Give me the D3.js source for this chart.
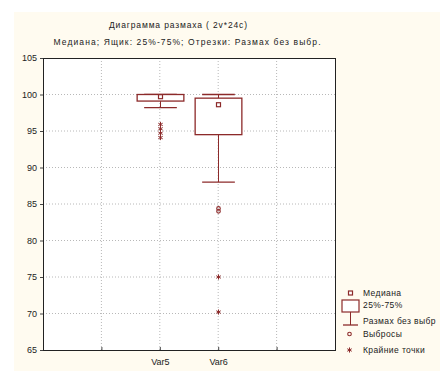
<!DOCTYPE html>
<html>
<head>
<meta charset="utf-8">
<script src="https://cdn.jsdelivr.net/npm/d3@7"></script>
<style>
  body { margin: 0; background: #fff; }
  text { font-family: "Liberation Sans", Arial, sans-serif; fill: #222; }
  .grid line { stroke: #b8b8b8; stroke-dasharray: 1,2; }
</style>
</head>
<body>
<script>
// data
const categories = ["Var5", "Var6"];
const medians = [99.7, 98.6];
const q1 = [99.1, 94.5];
const q3 = [100.0, 99.5];
const whiskerLow = [98.2, 88.0];
const whiskerHigh = [100.0, 100.0];
const outliers = [[], [84.0, 84.4]];
const extremes = [[95.9, 95.3, 94.7, 94.1], [75.0, 70.2]];
const yTicks = [65, 70, 75, 80, 85, 90, 95, 100, 105];
const legendLabels = ["Медиана", "25%-75%", "Размах без выбр", "Выбросы", "Крайние точки"];

const width = 440, height = 371;
const plotLeft = 43, plotRight = 335, plotTop = 58, plotBottom = 350;
const col = "#8c2a2a";

const svg = d3.select("body").append("svg")
    .attr("width", width)
    .attr("height", height);

// cream panel
svg.append("rect")
    .attr("x", 14).attr("y", 12)
    .attr("width", width - 14).attr("height", height - 12)
    .attr("fill", "#fffbf0");

// plot area
svg.append("rect")
    .attr("x", plotLeft).attr("y", plotTop)
    .attr("width", plotRight - plotLeft).attr("height", plotBottom - plotTop)
    .attr("fill", "#fff");

// scales: categories sit at 0,1 in a slot range of -2..3
const x = d3.scaleLinear().domain([-2, 3]).range([plotLeft, plotRight]);
const y = d3.scaleLinear().domain([65, 105]).range([plotBottom, plotTop]);
const unit = x(1) - x(0);

// grid
const grid = svg.append("g").attr("class", "grid");
grid.selectAll(".gx").data([-1, 0, 1, 2]).join("line")
    .attr("x1", d => x(d)).attr("x2", d => x(d))
    .attr("y1", plotTop).attr("y2", plotBottom);
grid.selectAll(".gy").data(yTicks.slice(1, -1)).join("line")
    .attr("x1", plotLeft).attr("x2", plotRight)
    .attr("y1", d => y(d)).attr("y2", d => y(d));

// axes
const leftAxis = d3.axisLeft(y).tickValues(yTicks).tickSize(3).tickPadding(3);
const bottomAxis = d3.axisBottom(x).tickValues([-1, 0, 1, 2])
    .tickFormat(d => categories[d] || "").tickSize(-3).tickPadding(9);

const ya = svg.append("g").attr("transform", `translate(${plotLeft},0)`).call(leftAxis);
const xa = svg.append("g").attr("transform", `translate(0,${plotBottom})`).call(bottomAxis);
[ya, xa].forEach(g => {
  g.select(".domain").remove();
  g.selectAll("line").attr("stroke", "#444");
  g.selectAll("text").attr("font-size", 9).attr("fill", "#222")
    .style("font-family", "'Liberation Sans', Arial, sans-serif");
});

// frame
svg.append("rect")
    .attr("x", plotLeft + 0.5).attr("y", plotTop + 0.5)
    .attr("width", plotRight - plotLeft).attr("height", plotBottom - plotTop)
    .attr("fill", "none").attr("stroke", "#222").attr("stroke-width", 1);

// boxes
const boxes = svg.append("g").selectAll("g").data(categories).join("g");
boxes.each(function (c, i) {
  const g = d3.select(this);
  const cx = Math.round(x(i)) + 0.5;
  const bw = unit * 0.8, cw = unit * 0.56;
  // whiskers
  g.append("line").attr("x1", cx).attr("x2", cx)
      .attr("y1", y(q1[i])).attr("y2", y(whiskerLow[i])).attr("stroke", col);
  g.append("line").attr("x1", cx).attr("x2", cx)
      .attr("y1", y(q3[i])).attr("y2", y(whiskerHigh[i])).attr("stroke", col);
  [whiskerLow[i], whiskerHigh[i]].forEach(v => {
    g.append("line").attr("x1", cx - cw / 2).attr("x2", cx + cw / 2)
        .attr("y1", y(v)).attr("y2", y(v)).attr("stroke", col).attr("stroke-width", 1.4);
  });
  // box
  g.append("rect").attr("x", cx - bw / 2).attr("y", y(q3[i]))
      .attr("width", bw).attr("height", y(q1[i]) - y(q3[i]))
      .attr("fill", "#fff").attr("stroke", col).attr("stroke-width", 1.3);
  // median
  g.append("rect").attr("x", cx - 2).attr("y", y(medians[i]) - 2)
      .attr("width", 4).attr("height", 4)
      .attr("fill", "#fff").attr("stroke", col).attr("stroke-width", 1.2);
  // outliers
  g.selectAll(".o").data(outliers[i]).join("circle")
      .attr("cx", cx).attr("cy", d => y(d)).attr("r", 1.8)
      .attr("fill", "none").attr("stroke", col).attr("stroke-width", 1.1);
  // extremes
  g.selectAll(".e").data(extremes[i]).join("path")
      .attr("transform", d => `translate(${cx},${y(d)})`)
      .attr("d", d3.symbol(d3.symbolAsterisk, 18))
      .attr("fill", "none").attr("stroke", col).attr("stroke-width", 1);
});

// titles
svg.append("text").attr("x", 178).attr("y", 28).attr("text-anchor", "middle")
    .attr("font-size", 8.5).attr("textLength", 138).attr("lengthAdjust", "spacing")
    .text("Диаграмма размаха ( 2v*24c)");
svg.append("text").attr("x", 187).attr("y", 45).attr("text-anchor", "middle")
    .attr("font-size", 8.5).attr("textLength", 267).attr("lengthAdjust", "spacing")
    .text("Медиана; Ящик: 25%-75%; Отрезки: Размах без выбр.");

// legend
const lg = svg.append("g");
const lx = 350.5, tx = 363;
const rowY = [293, 305, 321, 334, 350];
lg.append("rect").attr("x", lx - 2).attr("y", rowY[0] - 2).attr("width", 4).attr("height", 4)
    .attr("fill", "#fff").attr("stroke", col).attr("stroke-width", 1.2);
lg.append("rect").attr("x", 342).attr("y", 300).attr("width", 17).attr("height", 12)
    .attr("fill", "#fff").attr("stroke", col).attr("stroke-width", 1.2);
lg.append("line").attr("x1", lx).attr("x2", lx).attr("y1", 312).attr("y2", 325).attr("stroke", col);
lg.append("line").attr("x1", 343).attr("x2", 358).attr("y1", 325).attr("y2", 325)
    .attr("stroke", col).attr("stroke-width", 1.3);
lg.append("circle").attr("cx", lx - 1).attr("cy", rowY[3]).attr("r", 1.8)
    .attr("fill", "none").attr("stroke", col).attr("stroke-width", 1.1);
lg.append("path").attr("transform", `translate(${lx - 1},${rowY[4]})`)
    .attr("d", d3.symbol(d3.symbolAsterisk, 18))
    .attr("fill", "none").attr("stroke", col).attr("stroke-width", 1);
lg.selectAll(".lt").data(legendLabels).join("text")
    .attr("x", tx).attr("y", (d, i) => rowY[i] + 3)
    .attr("font-size", 8.5).attr("letter-spacing", 0.4)
    .text(d => d);
</script>
</body>
</html>
